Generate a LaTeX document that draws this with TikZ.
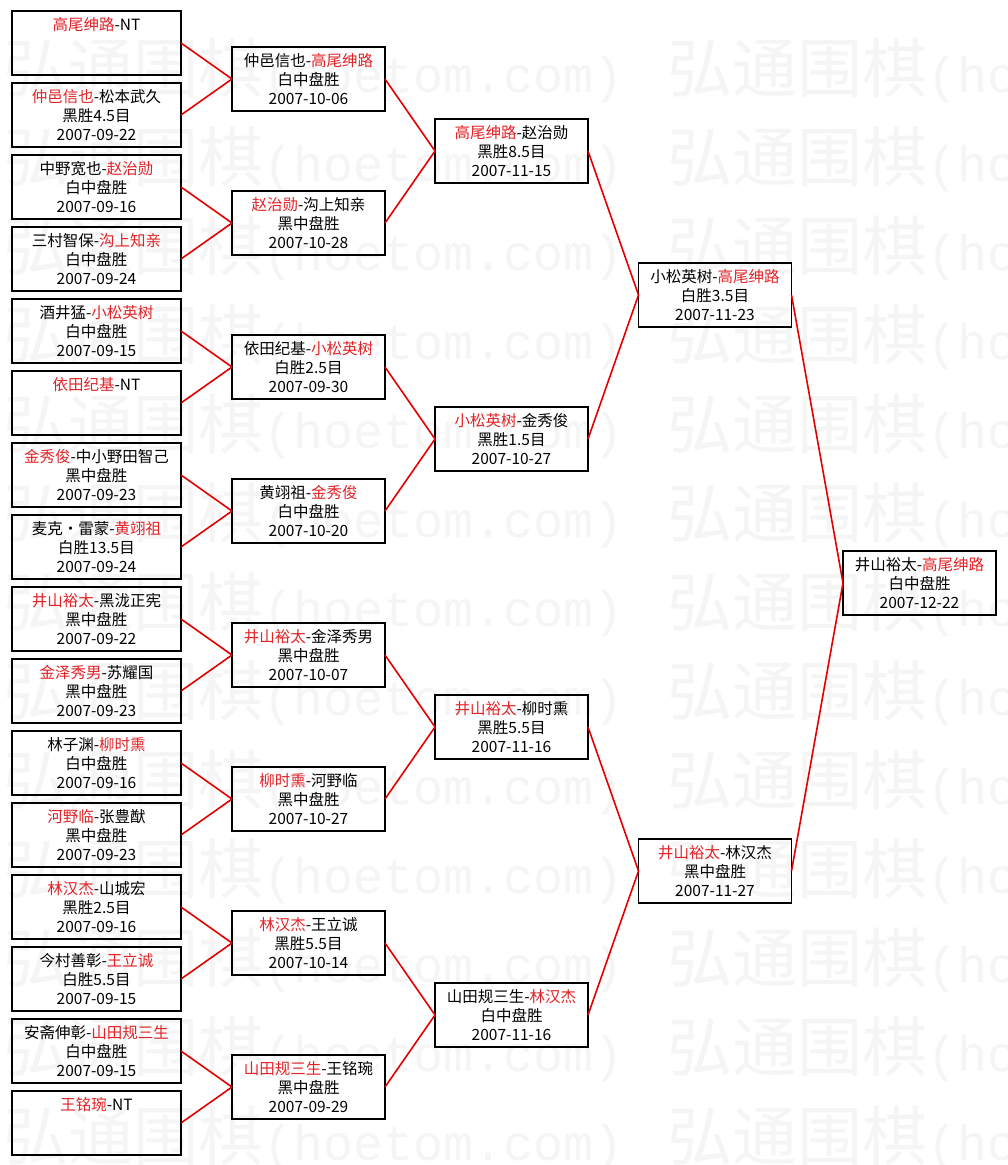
\documentclass[tikz,border=0pt]{standalone}
\usepackage{fontspec}
\setmainfont{Noto Sans CJK SC}
\newfontfamily\wmcjk{Noto Sans CJK SC}
\newfontfamily\wmlat{Liberation Mono}
\definecolor{win}{RGB}{225,35,40}
\definecolor{conn}{RGB}{228,0,0}
\definecolor{wmgray}{RGB}{245,245,245}
\newcommand\W[1]{\textcolor{win}{#1}}
\newcommand\gtA[1]{\parbox[c][64pt][t]{169pt}{\centering\rule{0pt}{19.5pt}#1}}
\newcommand\gtB[1]{\parbox[c][64pt][t]{153pt}{\centering\rule{0pt}{19.5pt}#1}}
\tikzset{
  game/.style={draw=black, line width=1.8pt, inner sep=0pt, outer sep=0pt,
    font=\fontsize{15.5}{19}\selectfont},
  conn/.style={draw=conn, line width=1.6pt},
  wmark/.style={text=wmgray, inner sep=0pt, anchor=base west}
}
\begin{document}
\begin{tikzpicture}[x=1pt,y=-1pt]
\fill[white] (0,0) rectangle (1007,1165);
\useasboundingbox (0,0) rectangle (1007,1165);
% watermark
\foreach \k in {0,...,12}{
  \foreach \xx in {3,667}{
    \node[wmark] (wm\k x\xx) at (\xx, 92+89*\k)
      {{\wmcjk\fontsize{65}{65}\selectfont 弘通围棋}{\wmlat\fontsize{50}{50}\selectfont (hoetom.com)}};
  }
}
% round 1
\node[game] (a1)  at (96.5,43)   {\gtA{\W{高尾绅路}-NT}};
\node[game] (a2)  at (96.5,115)  {\gtA{\W{仲邑信也}-松本武久\\黑胜4.5目\\2007-09-22}};
\node[game] (a3)  at (96.5,187)  {\gtA{中野宽也-\W{赵治勋}\\白中盘胜\\2007-09-16}};
\node[game] (a4)  at (96.5,259)  {\gtA{三村智保-\W{沟上知亲}\\白中盘胜\\2007-09-24}};
\node[game] (a5)  at (96.5,331)  {\gtA{酒井猛-\W{小松英树}\\白中盘胜\\2007-09-15}};
\node[game] (a6)  at (96.5,403)  {\gtA{\W{依田纪基}-NT}};
\node[game] (a7)  at (96.5,475)  {\gtA{\W{金秀俊}-中小野田智己\\黑中盘胜\\2007-09-23}};
\node[game] (a8)  at (96.5,547)  {\gtA{麦克・雷蒙-\W{黄翊祖}\\白胜13.5目\\2007-09-24}};
\node[game] (a9)  at (96.5,619)  {\gtA{\W{井山裕太}-黑泷正宪\\黑中盘胜\\2007-09-22}};
\node[game] (a10) at (96.5,691)  {\gtA{\W{金泽秀男}-苏耀国\\黑中盘胜\\2007-09-23}};
\node[game] (a11) at (96.5,763)  {\gtA{林子渊-\W{柳时熏}\\白中盘胜\\2007-09-16}};
\node[game] (a12) at (96.5,835)  {\gtA{\W{河野临}-张豊猷\\黑中盘胜\\2007-09-23}};
\node[game] (a13) at (96.5,907)  {\gtA{\W{林汉杰}-山城宏\\黑胜2.5目\\2007-09-16}};
\node[game] (a14) at (96.5,979)  {\gtA{今村善彰-\W{王立诚}\\白胜5.5目\\2007-09-15}};
\node[game] (a15) at (96.5,1051) {\gtA{安斋伸彰-\W{山田规三生}\\白中盘胜\\2007-09-15}};
\node[game] (a16) at (96.5,1123) {\gtA{\W{王铭琬}-NT}};
% round 2
\node[game] (b1) at (308.5,79)   {\gtB{仲邑信也-\W{高尾绅路}\\白中盘胜\\2007-10-06}};
\node[game] (b2) at (308.5,223)  {\gtB{\W{赵治勋}-沟上知亲\\黑中盘胜\\2007-10-28}};
\node[game] (b3) at (308.5,367)  {\gtB{依田纪基-\W{小松英树}\\白胜2.5目\\2007-09-30}};
\node[game] (b4) at (308.5,511)  {\gtB{黄翊祖-\W{金秀俊}\\白中盘胜\\2007-10-20}};
\node[game] (b5) at (308.5,655)  {\gtB{\W{井山裕太}-金泽秀男\\黑中盘胜\\2007-10-07}};
\node[game] (b6) at (308.5,799)  {\gtB{\W{柳时熏}-河野临\\黑中盘胜\\2007-10-27}};
\node[game] (b7) at (308.5,943)  {\gtB{\W{林汉杰}-王立诚\\黑胜5.5目\\2007-10-14}};
\node[game] (b8) at (308.5,1087) {\gtB{\W{山田规三生}-王铭琬\\黑中盘胜\\2007-09-29}};
% round 3
\node[game] (c1) at (511.5,151)  {\gtB{\W{高尾绅路}-赵治勋\\黑胜8.5目\\2007-11-15}};
\node[game] (c2) at (511.5,439)  {\gtB{\W{小松英树}-金秀俊\\黑胜1.5目\\2007-10-27}};
\node[game] (c3) at (511.5,727)  {\gtB{\W{井山裕太}-柳时熏\\黑胜5.5目\\2007-11-16}};
\node[game] (c4) at (511.5,1015) {\gtB{山田规三生-\W{林汉杰}\\白中盘胜\\2007-11-16}};
% round 4
\node[game] (d1) at (715,295) {\gtB{小松英树-\W{高尾绅路}\\白胜3.5目\\2007-11-23}};
\node[game] (d2) at (715,871) {\gtB{\W{井山裕太}-林汉杰\\黑中盘胜\\2007-11-27}};
% final
\node[game] (e1) at (919.5,583) {\gtB{井山裕太-\W{高尾绅路}\\白中盘胜\\2007-12-22}};
% connectors
\foreach \i/\p in {1/1,2/1,3/2,4/2,5/3,6/3,7/4,8/4,9/5,10/5,11/6,12/6,13/7,14/7,15/8,16/8}
  \draw[conn] (a\i.east) -- (b\p.west);
\foreach \i/\p in {1/1,2/1,3/2,4/2,5/3,6/3,7/4,8/4}
  \draw[conn] (b\i.east) -- (c\p.west);
\foreach \i/\p in {1/1,2/1,3/2,4/2}
  \draw[conn] (c\i.east) -- (d\p.west);
\draw[conn] (d1.east) -- (e1.west);
\draw[conn] (d2.east) -- (e1.west);
\end{tikzpicture}
\end{document}
